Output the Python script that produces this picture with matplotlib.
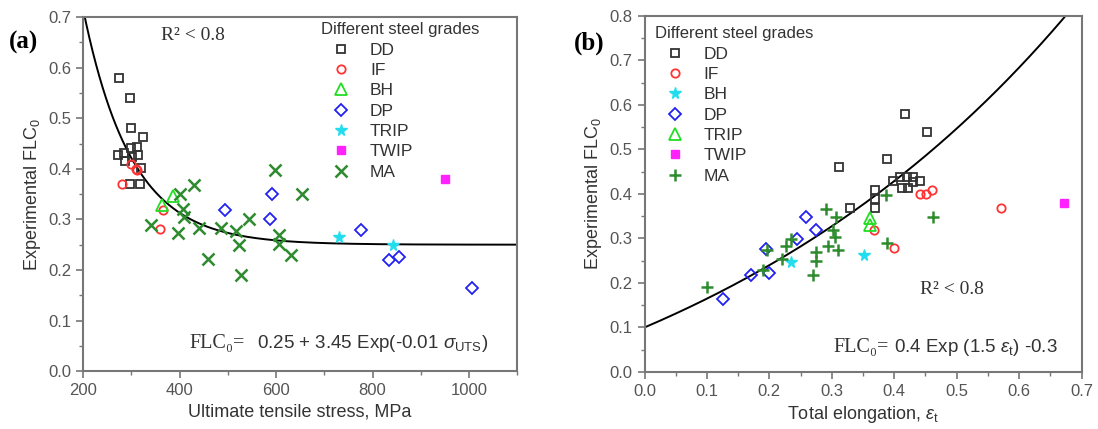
import numpy as np
import matplotlib.pyplot as plt
from matplotlib.ticker import MultipleLocator

plt.rcParams['font.family'] = ['Liberation Sans', 'DejaVu Sans']
plt.rcParams['mathtext.fontset'] = 'custom'
plt.rcParams['mathtext.rm'] = 'Liberation Sans'
plt.rcParams['mathtext.it'] = 'Liberation Sans:italic'

# ---- panel (a): UTS vs FLC0 ----
dd_uts = [274, 297, 300, 324, 272, 284, 300, 312, 314, 288, 302, 321, 298, 319]
dd_flc_a = [0.580, 0.541, 0.481, 0.462, 0.427, 0.431, 0.442, 0.443, 0.427, 0.415, 0.423, 0.402, 0.371, 0.371]
if_uts = [281, 299, 309, 312, 366, 360]
if_flc_a = [0.371, 0.410, 0.400, 0.397, 0.319, 0.281]
bh_uts = [364, 386]
bh_flc_a = [0.329, 0.346]
dp_uts = [495, 591, 588, 776, 834, 854, 1007]
dp_flc_a = [0.319, 0.350, 0.300, 0.280, 0.219, 0.225, 0.165]
trip_uts = [730, 843]
trip_flc_a = [0.265, 0.250]
twip_uts = [950]
twip_flc_a = [0.379]
ma_uts = [341, 397, 401, 407, 410, 431, 441, 460, 485, 517, 523, 528, 543, 598, 607, 607, 631, 653]
ma_flc_a = [0.288, 0.274, 0.350, 0.321, 0.304, 0.369, 0.283, 0.221, 0.283, 0.277, 0.249, 0.190,
            0.300, 0.398, 0.269, 0.252, 0.229, 0.350]

# ---- panel (b): total elongation vs FLC0 ----
dd_el = [0.417, 0.452, 0.388, 0.312, 0.329, 0.369, 0.369, 0.369, 0.398, 0.409, 0.420, 0.430, 0.441, 0.412, 0.422, 0.430]
dd_flc_b = [0.580, 0.539, 0.479, 0.460, 0.369, 0.409, 0.388, 0.369, 0.429, 0.439, 0.439, 0.439, 0.429, 0.414, 0.414, 0.427]
if_el = [0.441, 0.451, 0.461, 0.571, 0.367, 0.399]
if_flc_b = [0.399, 0.399, 0.409, 0.369, 0.319, 0.279]
bh_el = [0.235, 0.352]
bh_flc_b = [0.247, 0.262]
dp_el = [0.125, 0.171, 0.195, 0.199, 0.244, 0.259, 0.274]
dp_flc_b = [0.163, 0.217, 0.277, 0.223, 0.298, 0.347, 0.319]
trip_el = [0.361, 0.361]
trip_flc_b = [0.345, 0.330]
twip_el = [0.672]
twip_flc_b = [0.380]
ma_el = [0.100, 0.190, 0.196, 0.221, 0.227, 0.235, 0.291, 0.306, 0.302, 0.305, 0.294, 0.310,
         0.274, 0.274, 0.270, 0.386, 0.388, 0.462]
ma_flc_b = [0.190, 0.230, 0.275, 0.253, 0.283, 0.298, 0.367, 0.349, 0.319, 0.304, 0.283, 0.274,
            0.270, 0.250, 0.217, 0.397, 0.290, 0.349]

GRAY = '#555555'
TXT = '#333333'
DKGREEN = '#2e8b2e'
LIME = '#22dd22'
SERIF = ['Liberation Serif', 'DejaVu Serif']

fig = plt.figure(figsize=(10.98, 4.29), dpi=100)
ax1 = fig.add_axes([0.0756, 0.135, 0.3955, 0.825])
ax2 = fig.add_axes([0.587, 0.133, 0.398, 0.830])

ms = 6.5
open_kw = dict(linestyle='none', markerfacecolor='none', markeredgewidth=1.3)
leg_kw = dict(title='Different steel grades', frameon=False, fontsize=12.5, title_fontsize=12,
              labelspacing=0.3, handlelength=2.3, handletextpad=0.5, borderaxespad=0.2,
              labelcolor=TXT)

# panel (a)
x = np.linspace(200, 1100, 400)
ax1.plot(x, 0.25 + 3.45 * np.exp(-0.01 * x), color='black', lw=1.4, zorder=1)
ax1.plot(dd_uts, dd_flc_a, marker='s', color=TXT, ms=ms - 1, label='DD', **open_kw)
ax1.plot(if_uts, if_flc_a, marker='o', color='#ff3333', ms=ms - 0.5, label='IF', **open_kw)
ax1.plot(bh_uts, bh_flc_a, marker='^', color=LIME, ms=ms + 2, label='BH', **open_kw)
ax1.plot(dp_uts, dp_flc_a, marker='D', color='#2222ee', ms=ms, label='DP', **open_kw)
ax1.plot(trip_uts, trip_flc_a, marker='*', color='#22ddee', ms=ms + 2, linestyle='none', label='TRIP')
ax1.plot(twip_uts, twip_flc_a, marker='s', color='#ff22ff', ms=ms - 1, linestyle='none', label='TWIP')
ax1.plot(ma_uts, ma_flc_a, marker='x', color=DKGREEN, ms=ms + 2, mew=1.8, linestyle='none', label='MA')
ax1.set_xlim(200, 1100)
ax1.set_ylim(0, 0.7)
ax1.xaxis.set_major_locator(MultipleLocator(200))
ax1.xaxis.set_minor_locator(MultipleLocator(100))
ax1.yaxis.set_major_locator(MultipleLocator(0.1))
ax1.yaxis.set_minor_locator(MultipleLocator(0.05))
ax1.set_xlabel('Ultimate tensile stress, MPa', fontsize=13, color=TXT)
ax1.set_ylabel('Experimental FLC$_0$', fontsize=13, color=TXT)
ax1.text(362, 0.655, 'R² < 0.8', family=SERIF, fontsize=14, color=TXT)
ax1.text(421, 0.045, 'FLC₀=', family=SERIF, fontsize=14.5, color=TXT)
ax1.text(560, 0.045, '0.25 + 3.45 Exp(-0.01 $\\sigma_{\\rm UTS}$)', fontsize=13.5, color=TXT)
leg1 = ax1.legend(loc='upper left', bbox_to_anchor=(0.525, 1.015), **leg_kw)
fig.text(0.008, 0.90, '(a)', family=SERIF, fontweight='bold', fontsize=18, va='center')

# panel (b)
e = np.linspace(0, 0.7, 400)
ax2.plot(e, 0.4 * np.exp(1.5 * e) - 0.3, color='black', lw=1.4, zorder=1)
ax2.plot(dd_el, dd_flc_b, marker='s', color=TXT, ms=ms - 1, label='DD', **open_kw)
ax2.plot(if_el, if_flc_b, marker='o', color='#ff3333', ms=ms - 0.5, label='IF', **open_kw)
ax2.plot(bh_el, bh_flc_b, marker='*', color='#22ddee', ms=ms + 2, linestyle='none', label='BH')
ax2.plot(dp_el, dp_flc_b, marker='D', color='#2222ee', ms=ms, label='DP', **open_kw)
ax2.plot(trip_el, trip_flc_b, marker='^', color=LIME, ms=ms + 2, label='TRIP', **open_kw)
ax2.plot(twip_el, twip_flc_b, marker='s', color='#ff22ff', ms=ms - 1, linestyle='none', label='TWIP')
ax2.plot(ma_el, ma_flc_b, marker='+', color=DKGREEN, ms=ms + 2, mew=1.8, linestyle='none', label='MA')
ax2.set_xlim(0, 0.7)
ax2.set_ylim(0, 0.8)
ax2.xaxis.set_major_locator(MultipleLocator(0.1))
ax2.xaxis.set_minor_locator(MultipleLocator(0.05))
ax2.yaxis.set_major_locator(MultipleLocator(0.1))
ax2.yaxis.set_minor_locator(MultipleLocator(0.05))
ax2.set_xlabel('Total elongation, $\\varepsilon_{\\rm t}$', fontsize=13, color=TXT)
ax2.set_ylabel('Experimental FLC$_0$', fontsize=13, color=TXT)
ax2.text(0.441, 0.175, 'R² < 0.8', family=SERIF, fontsize=14, color=TXT)
ax2.text(0.302, 0.045, 'FLC₀=', family=SERIF, fontsize=14.5, color=TXT)
ax2.text(0.4, 0.045, '0.4 Exp (1.5 $\\varepsilon_{\\rm t}$) -0.3', fontsize=13.5, color=TXT)
leg2 = ax2.legend(loc='upper left', bbox_to_anchor=(0.0, 1.0), **leg_kw)
fig.text(0.523, 0.90, '(b)', family=SERIF, fontweight='bold', fontsize=18, va='center')

for ax, leg in ((ax1, leg1), (ax2, leg2)):
    leg._legend_box.align = 'left'
    leg.get_title().set_color(TXT)
    for s in ax.spines.values():
        s.set_color('#777777')
        s.set_linewidth(1.5)
    ax.tick_params(which='major', direction='out', length=5, width=1.2, color='#777777',
                   labelsize=12, labelcolor=GRAY)
    ax.tick_params(which='minor', direction='out', length=3, width=1.0, color='#777777')

fig.savefig('out.png', dpi=100)
